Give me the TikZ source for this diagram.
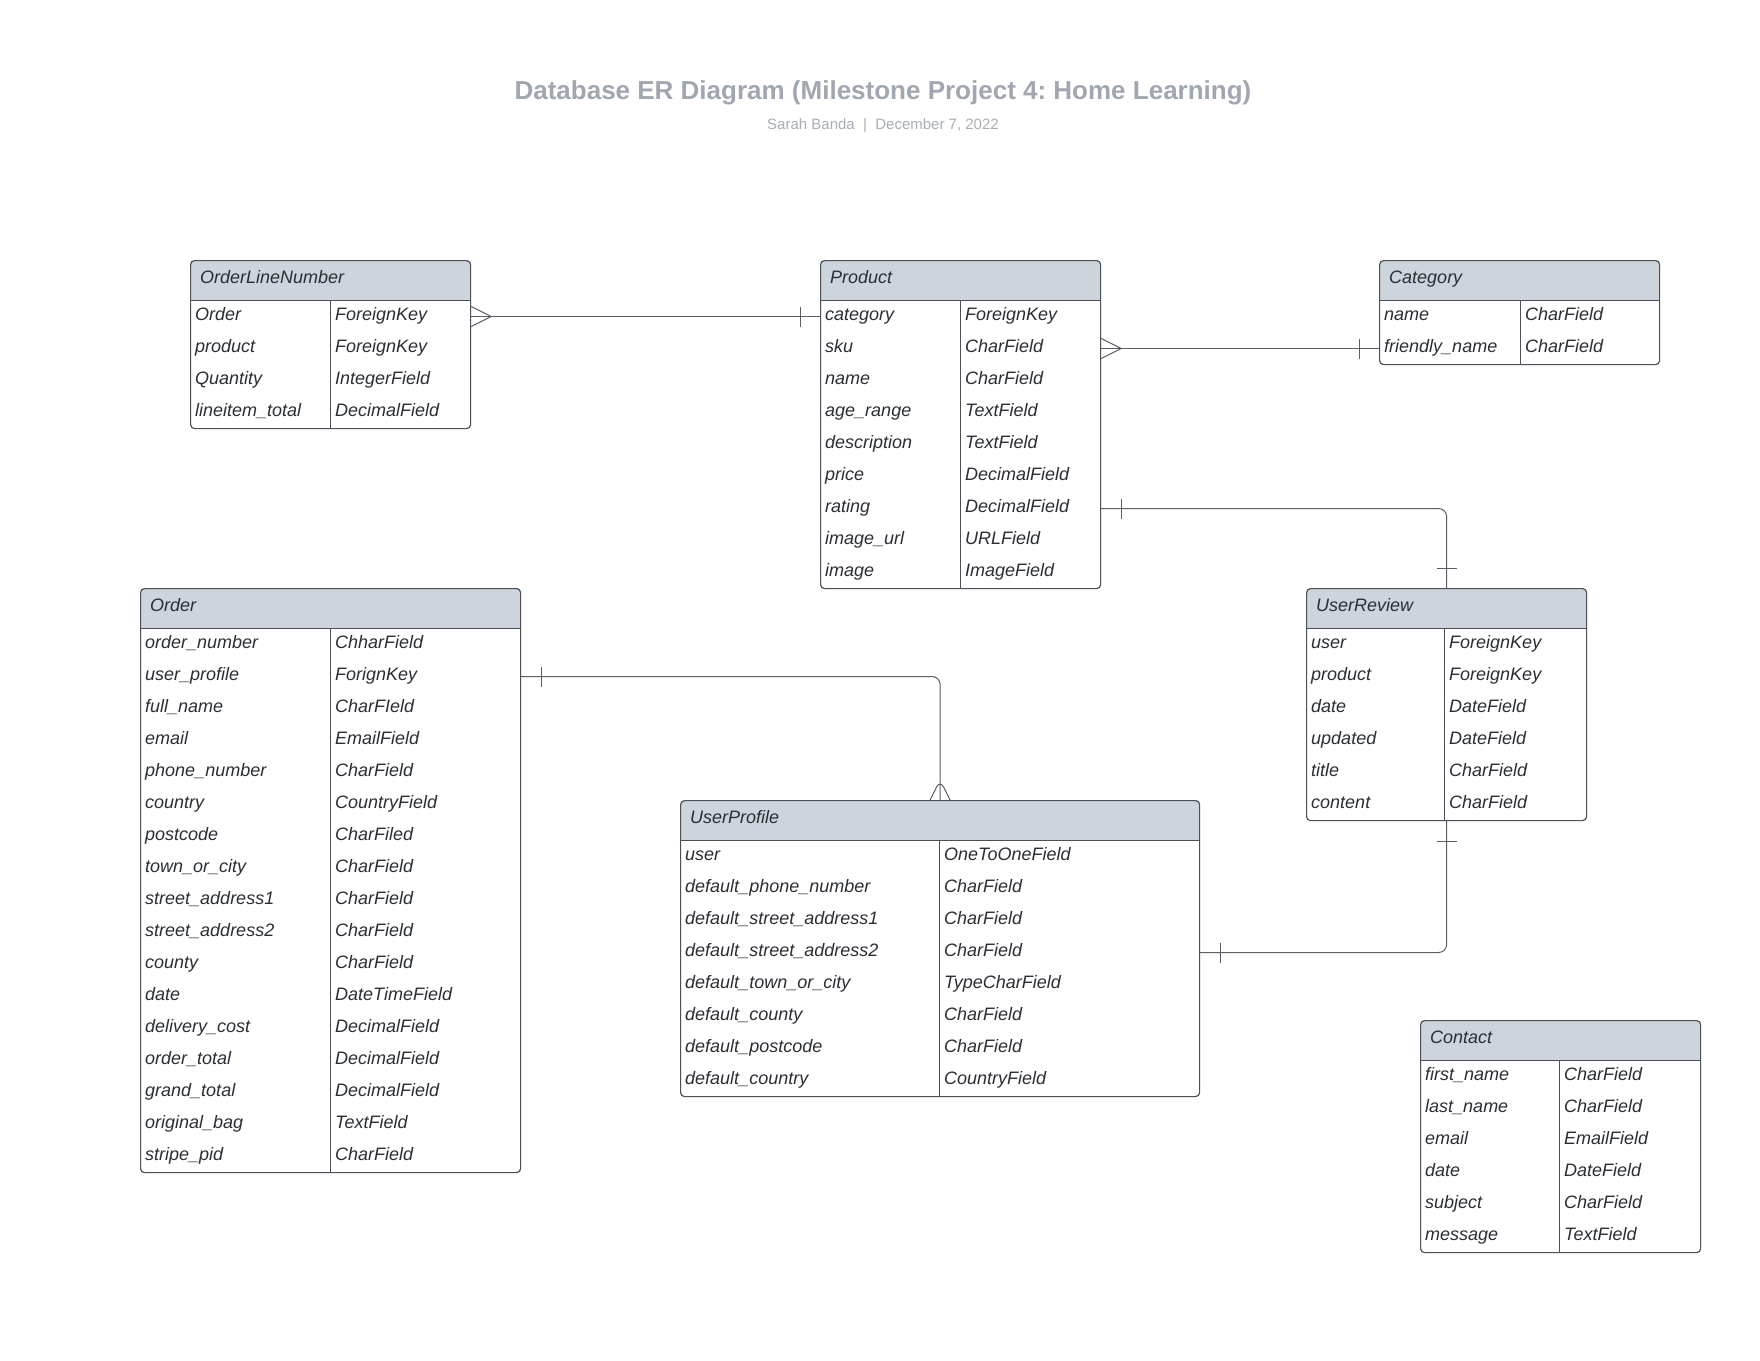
\documentclass[tikz,border=0pt]{standalone}
\usepackage{fontspec}
\setmainfont{Liberation Sans}
\frenchspacing
\usetikzlibrary{positioning,decorations.markings}
\definecolor{cLine}{HTML}{4B4F57}
\definecolor{cRel}{HTML}{5A5E66}
\definecolor{cHead}{HTML}{CED4DC}
\definecolor{cText}{HTML}{2A2E35}
\definecolor{cTitle}{HTML}{A1A7B0}
\definecolor{cSub}{HTML}{A9AEB6}
\tikzset{
  tbl/.style   ={draw=cLine, line width=1.2pt, rounded corners=4pt, anchor=north west, inner sep=0pt},
  field/.style ={anchor=west, inner sep=0pt, text=cText, text height=13pt, text depth=6pt,
                 font=\fontsize{18}{22}\selectfont\itshape},
  rel/.style   ={draw=cRel, line width=1pt},
  one start/.style ={postaction={decorate, decoration={markings,
                     mark=at position 20pt with {\draw[rel] (0pt,-10pt) -- (0pt,10pt);}}}},
  one end/.style   ={postaction={decorate, decoration={markings,
                     mark=at position -20pt with {\draw[rel] (0pt,-10pt) -- (0pt,10pt);}}}},
  many start/.style={postaction={decorate, decoration={markings,
                     mark=at position 0pt with {\draw[rel] (0pt,10pt) -- (20pt,0pt) -- (0pt,-10pt);}}}},
  many end/.style  ={postaction={decorate, decoration={markings,
                     mark=at position 0.9999 with {\draw[rel] (0pt,10pt) -- (-20pt,0pt) -- (0pt,-10pt);}}}},
}
% name, top left, width, type column, rows, title, fields
\newcommand{\ertable}[7]{%
  \node[tbl, minimum width=#3pt, minimum height={40pt+32pt*#5},
        path picture={
          \fill[cHead, sharp corners] (path picture bounding box.north west) rectangle
                       ([yshift=-40pt]path picture bounding box.north east);
          \draw[draw=cLine, line width=1.2pt, sharp corners] ([yshift=-40pt]path picture bounding box.north west) --
                     ([yshift=-40pt]path picture bounding box.north east);
          \draw[draw=cLine, line width=1.2pt, sharp corners] ([xshift=#4pt,yshift=-40pt]path picture bounding box.north west) --
                     ([xshift=#4pt]path picture bounding box.south west);
        }] (#1) at (#2) {};
  \node[field] (#1-h) at ([xshift=10pt,yshift=-20pt]#1.north west) {#6};
  \foreach \fname/\ftype [count=\row from 0] in {#7}{
    \node[field] (#1-\row) at ([xshift=5pt,yshift={-56.5pt-32pt*\row}]#1.north west) {\fname};
    \node[field] at ([xshift={#4pt+5pt},yshift={-56.5pt-32pt*\row}]#1.north west) {\ftype};
  }%
}

\begin{document}
\begin{tikzpicture}[x=1pt, y=-1pt]
\fill[white] (0,0) rectangle (1760,1360);
\useasboundingbox (0,0) rectangle (1760,1360);

\node[font=\fontsize{26}{30}\selectfont\bfseries, text=cTitle] (title) at (883,92.5)
  {Database ER Diagram (Milestone Project 4: Home Learning)};
\node[font=\fontsize{15}{18}\selectfont, text=cSub] (byline) at (883,125.5)
  {Sarah Banda\ \ |\ \ December 7, 2022};

\ertable{oln}{190,260}{280}{140}{4}{OrderLineNumber}
  {Order/ForeignKey, product/ForeignKey, Quantity/IntegerField, lineitem\_total/DecimalField}
\ertable{product}{820,260}{280}{140}{9}{Product}
  {category/ForeignKey, sku/CharField, name/CharField, age\_range/TextField,
   description/TextField, price/DecimalField, rating/DecimalField,
   image\_url/URLField, image/ImageField}
\ertable{category}{1379,260}{280}{141}{2}{Category}
  {name/CharField, friendly\_name/CharField}
\ertable{order}{140,588}{380}{190}{17}{Order}
  {order\_number/ChharField, user\_profile/ForignKey, full\_name/CharFIeld,
   email/EmailField, phone\_number/CharField, country/CountryField,
   postcode/CharFiled, town\_or\_city/CharField, street\_address1/CharField,
   street\_address2/CharField, county/CharField, date/DateTimeField,
   delivery\_cost/DecimalField, order\_total/DecimalField,
   grand\_total/DecimalField, original\_bag/TextField, stripe\_pid/CharField}
\ertable{review}{1306,588}{280}{138}{6}{UserReview}
  {user/ForeignKey, product/ForeignKey, date/DateField, updated/DateField,
   title/CharField, content/CharField}
\ertable{profile}{680,800}{519}{259}{8}{UserProfile}
  {user/OneToOneField, default\_phone\_number/CharField,
   default\_street\_address1/CharField, default\_street\_address2/CharField,
   default\_town\_or\_city/TypeCharField, default\_county/CharField,
   default\_postcode/CharField, default\_country/CountryField}
\ertable{contact}{1420,1020}{280}{139}{6}{Contact}
  {first\_name/CharField, last\_name/CharField, email/EmailField,
   date/DateField, subject/CharField, message/TextField}

% relations
\draw[rel, many start, one end] (oln.east |- oln-0) -- (product.west |- product-0);
\draw[rel, many start, one end] (product.east |- product-1) -- (category.west |- category-1);
\draw[rel, one start, one end, rounded corners=8pt] (product.east |- product-6) -| (review.north);
\draw[rel, one start, many end, rounded corners=8pt] (order.east |- order-1) -| (profile.north);
\draw[rel, one start, one end, rounded corners=8pt] (review.south) |- (profile.east |- profile-3);
\end{tikzpicture}
\end{document}
